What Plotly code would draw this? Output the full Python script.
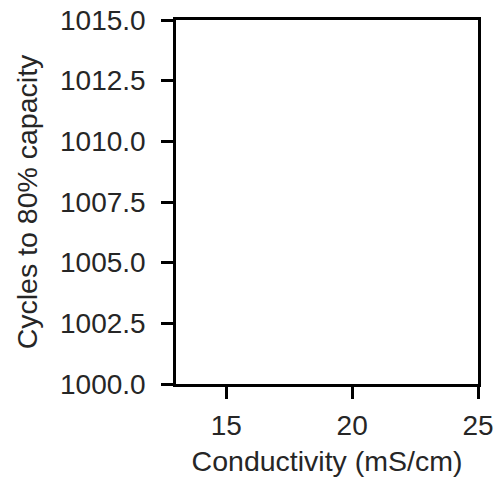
import plotly.graph_objects as go

conductivity = []  # mS/cm (no data points shown)
cycles = []        # cycles to 80% capacity
x_ticks = [15, 20, 25]
y_ticks = [1000.0, 1002.5, 1005.0, 1007.5, 1010.0, 1012.5, 1015.0]
y_tick_text = [f"{v:.1f}" for v in y_ticks]

FONT = "Liberation Sans, Arial"
TXT = "#262626"

fig = go.Figure()
fig.add_trace(go.Scatter(x=conductivity, y=cycles, mode="markers", showlegend=False))

axis_common = dict(
    showline=True, linecolor="black", linewidth=2.5, mirror=True,
    ticks="outside", ticklen=12, tickwidth=2.5, tickcolor="black",
    showgrid=False, zeroline=False, automargin=False,
    tickfont=dict(family=FONT, size=28, color=TXT),
    title_font=dict(family=FONT, size=28.5, color=TXT),
)

fig.update_layout(
    width=497, height=485,
    margin=dict(l=176, r=19, t=20, b=101),
    plot_bgcolor="white", paper_bgcolor="white",
    xaxis=dict(range=[13, 25], tickvals=x_ticks, title_text="Conductivity (mS/cm)",
               title_standoff=11, ticklabelstandoff=3, **axis_common),
    yaxis=dict(range=[1000, 1015], tickvals=y_ticks, ticktext=y_tick_text,
               title_text="Cycles to 80% capacity", title_standoff=15,
               ticklabelstandoff=10, **axis_common),
)

fig.write_html("out.html")
